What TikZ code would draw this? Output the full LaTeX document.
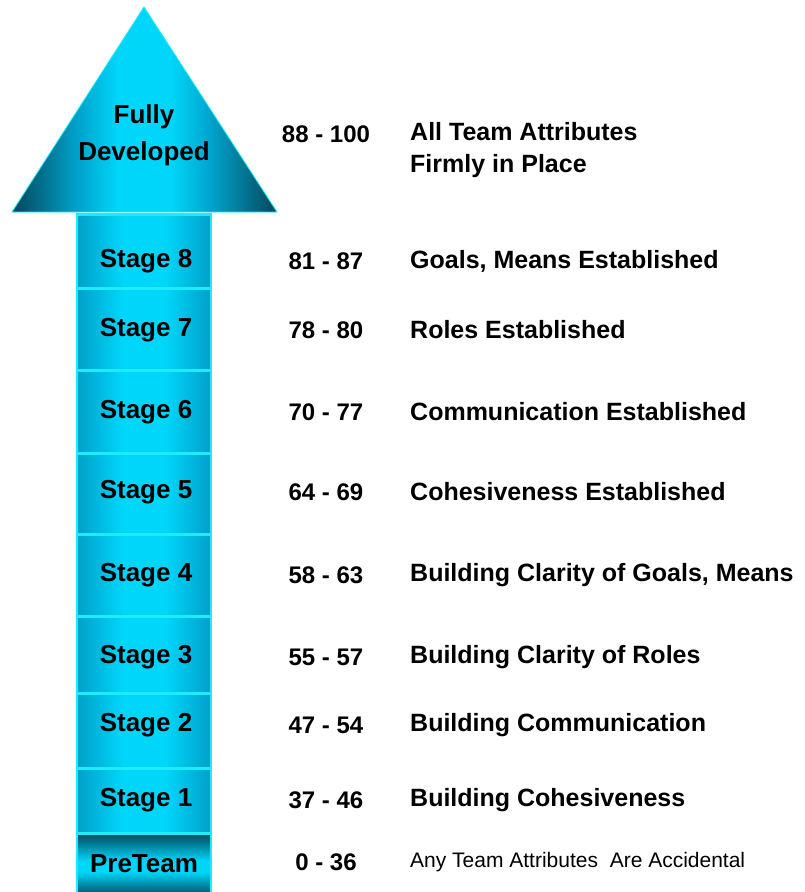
\documentclass[tikz,border=0pt]{standalone}
\usepackage{fontspec}
\setmainfont{Liberation Sans}
\usetikzlibrary{positioning}
\definecolor{cyanmid}{RGB}{0,214,250}
\definecolor{cyanedge}{RGB}{0,160,200}
\definecolor{tealdark}{RGB}{4,70,90}
\definecolor{bandline}{RGB}{30,235,255}
% shadings: the path covers 25bp to 75bp
\pgfdeclarehorizontalshading{bandshade}{100bp}{color(0bp)=(cyanedge); color(25bp)=(cyanedge);
	color(42bp)=(cyanmid); color(58bp)=(cyanmid); color(75bp)=(cyanedge); color(100bp)=(cyanedge)}
\pgfdeclarehorizontalshading{headshade}{100bp}{color(0bp)=(tealdark); color(25bp)=(tealdark);
	color(37bp)=(cyanedge); color(45bp)=(cyanmid); color(55bp)=(cyanmid); color(63bp)=(cyanedge);
	color(75bp)=(tealdark); color(100bp)=(tealdark)}
\pgfdeclareverticalshading{preshade}{100bp}{color(0bp)=(tealdark!80!cyanedge); color(25bp)=(tealdark!80!cyanedge);
	color(43bp)=(cyanmid); color(52bp)=(cyanmid); color(75bp)=(tealdark); color(100bp)=(tealdark)}
\begin{document}
\begin{tikzpicture}[x=1pt, y=1pt,
	band/.style={rectangle, anchor=north, minimum width=134pt, inner sep=0pt,
		draw=bandline, line width=2.5pt, shading=bandshade, shading angle=0},
	stagetxt/.style={font=\fontsize{26}{30}\selectfont\bfseries},
	score/.style={font=\fontsize{24}{28}\selectfont\bfseries},
	desc/.style={anchor=west, align=left, inner sep=0pt,
		font=\fontsize{25}{32}\selectfont\bfseries}]
	\useasboundingbox (0,-892) rectangle (805,0);
	% arrow head
	\shade[shading=headshade, shading angle=0, draw=bandline, line width=0.8pt]
		(12,-212) -- (144,-7) -- (277,-212) -- cycle;
	\node[align=center, font=\fontsize{26}{37}\selectfont\bfseries] (head) at (144,-135) {Fully\\Developed};
	\node[score] (rhead) at (326,-134) {88 - 100};
	\node[desc] (dhead) at (410,-150) {All Team Attributes\\Firmly in Place};
	% shaft
	\foreach \n/\ytop/\hgt/\ty/\rng/\txt in {
		8/213/74/261/81 - 87/{Goals, Means Established},
		7/287/82/330/78 - 80/{Roles Established},
		6/369/83/412/70 - 77/{Communication Established},
		5/452/81/492/64 - 69/{Cohesiveness Established},
		4/533/82/575/58 - 63/{Building Clarity of Goals, Means},
		3/615/77/657/55 - 57/{Building Clarity of Roles},
		2/692/75/725/47 - 54/{Building Communication},
		1/767/65/800/37 - 46/{Building Cohesiveness}}
	{
		\node[band, minimum height=\hgt pt] (s\n) at (144,-\ytop) {};
		\node[stagetxt] (t\n) at (146,-\ty) {Stage \n};
		\node[score] (r\n) at (326,-\ty) {\rng};
		\node[desc] (d\n) at (410,-\ty) {\txt};
	}
	\node[band, minimum height=60pt, shading=preshade, shading angle=0, stagetxt] (pre) at (144,-832) {PreTeam};
	\node[score] (rpre) at (326,-862) {0 - 36};
	\node[desc, font=\fontsize{21}{25}\selectfont] (dpre) at (410,-862) {Any Team Attributes\ \ Are Accidental};
\end{tikzpicture}
\end{document}
